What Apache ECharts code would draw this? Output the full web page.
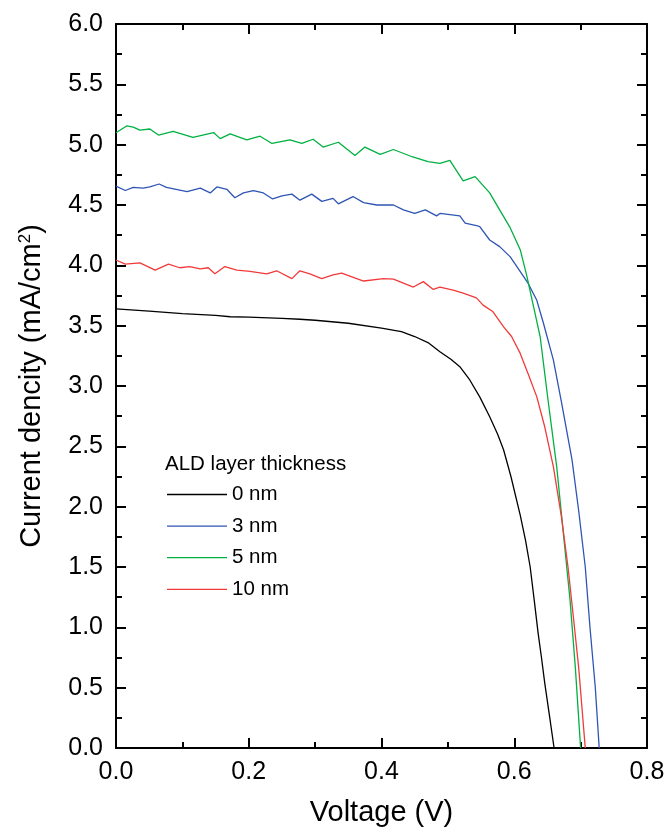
<!DOCTYPE html>
<html>
<head>
<meta charset="utf-8">
<script src="https://cdn.jsdelivr.net/npm/echarts@6/dist/echarts.min.js"></script>
<style>
html,body{margin:0;padding:0;background:#fff;}
#chart{width:668px;height:832px;}
</style>
</head>
<body>
<div id="chart"></div>
<script>
// ---- Data ----
var seriesNames = ['0 nm', '3 nm', '5 nm', '10 nm'];
var legendTitle = 'ALD layer thickness';

// 0 nm (black)
var v0 = [0.000,0.050,0.100,0.150,0.172,0.200,0.250,0.277,0.300,0.350,0.400,0.430,0.450,0.470,0.488,0.505,0.518,0.533,0.548,0.563,0.575,0.584,0.595,0.609,0.617,0.624,0.630,0.636,0.641,0.646,0.653,0.660];
var j0 = [3.640,3.620,3.600,3.585,3.574,3.570,3.560,3.553,3.545,3.520,3.480,3.450,3.410,3.360,3.284,3.220,3.160,3.050,2.910,2.745,2.600,2.470,2.250,1.930,1.720,1.500,1.230,0.950,0.750,0.536,0.270,0.000];

// 3 nm (blue)
var v3 = [0.000,0.014,0.026,0.041,0.051,0.065,0.076,0.107,0.127,0.142,0.152,0.167,0.179,0.192,0.207,0.222,0.236,0.250,0.265,0.277,0.295,0.310,0.327,0.335,0.357,0.373,0.393,0.418,0.433,0.450,0.466,0.483,0.488,0.503,0.518,0.526,0.543,0.548,0.563,0.578,0.594,0.604,0.621,0.634,0.644,0.659,0.671,0.687,0.697,0.707,0.714,0.722,0.728];
var j3 = [4.657,4.620,4.646,4.640,4.650,4.674,4.646,4.610,4.640,4.600,4.650,4.630,4.560,4.600,4.620,4.600,4.550,4.575,4.590,4.540,4.590,4.530,4.555,4.510,4.570,4.520,4.500,4.500,4.460,4.430,4.460,4.410,4.430,4.420,4.410,4.350,4.330,4.320,4.210,4.155,4.070,3.990,3.850,3.710,3.520,3.215,2.870,2.390,1.970,1.500,1.005,0.510,0.000];

// 5 nm (green)
var v5 = [0.000,0.016,0.026,0.036,0.051,0.064,0.086,0.116,0.147,0.157,0.172,0.197,0.217,0.235,0.262,0.280,0.297,0.312,0.335,0.360,0.375,0.398,0.418,0.446,0.470,0.488,0.503,0.523,0.541,0.563,0.578,0.594,0.609,0.619,0.629,0.639,0.651,0.664,0.674,0.684,0.692,0.700];
var j5 = [5.099,5.155,5.146,5.120,5.130,5.080,5.110,5.060,5.100,5.050,5.090,5.040,5.070,5.010,5.040,5.010,5.045,4.980,5.020,4.910,4.980,4.920,4.960,4.900,4.860,4.845,4.870,4.700,4.735,4.600,4.460,4.310,4.130,3.910,3.660,3.410,2.880,2.330,1.780,1.230,0.670,0.000];

// 10 nm (red)
var v10 = [0.000,0.014,0.036,0.059,0.079,0.096,0.111,0.127,0.139,0.149,0.164,0.182,0.202,0.227,0.242,0.265,0.277,0.292,0.310,0.327,0.340,0.373,0.403,0.418,0.448,0.463,0.478,0.488,0.508,0.523,0.543,0.553,0.568,0.584,0.596,0.609,0.621,0.634,0.646,0.659,0.671,0.681,0.689,0.697,0.707];
var j10 = [4.044,4.010,4.020,3.960,4.010,3.980,3.990,3.970,3.980,3.930,3.990,3.960,3.950,3.930,3.955,3.890,3.955,3.930,3.890,3.920,3.935,3.870,3.890,3.885,3.820,3.865,3.800,3.820,3.795,3.770,3.730,3.670,3.615,3.490,3.410,3.270,3.100,2.910,2.660,2.330,1.920,1.500,1.090,0.670,0.000];

var colors = ['#000000', '#2f55b4', '#00b142', '#f23a3a'];

function pairs(v, j) { return v.map(function (x, i) { return [x, j[i]]; }); }
var allData = [pairs(v0, j0), pairs(v3, j3), pairs(v5, j5), pairs(v10, j10)];

var FONT = "Arial, 'Liberation Sans', sans-serif";

var chart = echarts.init(document.getElementById('chart'), null, {renderer: 'canvas'});

function axisBase(showLabels) {
  return {
    axisLine: {show: true, onZero: false, lineStyle: {color: '#000', width: 2}},
    axisTick: {show: true, inside: true, length: 10, lineStyle: {color: '#000', width: 2}},
    minorTick: {show: true, splitNumber: 2, length: 6, lineStyle: {color: '#000', width: 2}},
    splitLine: {show: false},
    axisLabel: {show: showLabels, color: '#000', fontSize: 25, fontFamily: FONT,
      formatter: function (v) { return v.toFixed(1); }}
  };
}

var xMain = Object.assign(axisBase(true), {
  type: 'value', min: 0, max: 0.8, interval: 0.2, position: 'bottom',
  name: 'Voltage (V)', nameLocation: 'middle', nameGap: 50,
  nameTextStyle: {color: '#000', fontSize: 29, fontFamily: FONT}
});
xMain.axisLabel.margin = 12;
var xTop = Object.assign(axisBase(false), {
  type: 'value', min: 0, max: 0.8, interval: 0.2, position: 'top'
});
var yMain = Object.assign(axisBase(true), {
  type: 'value', min: 0, max: 6, interval: 0.5, position: 'left',
  name: 'Current dencity (mA/cm{sup|2})', nameLocation: 'middle', nameGap: 70,
  nameTextStyle: {color: '#000', fontSize: 29, fontFamily: FONT,
    rich: {sup: {fontSize: 17, fontFamily: FONT, color: '#000', verticalAlign: 'top', padding: [0, 0, 12, 0]}}}
});
yMain.axisLabel.margin = 13;
var yRight = Object.assign(axisBase(false), {
  type: 'value', min: 0, max: 6, interval: 0.5, position: 'right'
});

var series = seriesNames.map(function (n, i) {
  return {
    name: n, type: 'line', xAxisIndex: 0, yAxisIndex: 0,
    data: allData[i], symbol: 'none', smooth: false,
    lineStyle: {color: colors[i], width: 1.3},
    itemStyle: {color: colors[i]},
    animation: false, z: 2
  };
});

chart.setOption({
  animation: false,
  backgroundColor: '#fff',
  grid: {left: 116, right: 21, top: 24, bottom: 84, containLabel: false},
  title: {text: legendTitle, left: 160, top: 449,
    textStyle: {fontWeight: 'normal', fontSize: 20.5, color: '#000', fontFamily: FONT}},
  legend: {
    data: seriesNames, orient: 'vertical', left: 162, top: 479,
    itemWidth: 60, itemHeight: 20, itemGap: 10.6,
    textStyle: {fontSize: 20.5, color: '#000', fontFamily: FONT, lineHeight: 20},
    icon: 'path://M0,0 L60,0 L60,1.3 L0,1.3 Z'
  },
  xAxis: [xMain, xTop],
  yAxis: [yMain, yRight],
  series: series
});
</script>
</body>
</html>
